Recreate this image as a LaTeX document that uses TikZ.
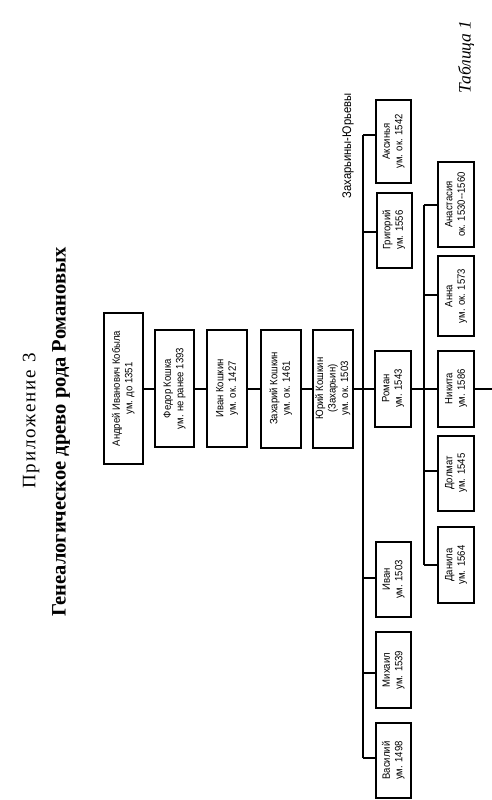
\documentclass[tikz,border=0pt]{standalone}
\usepackage{graphicx}
\usepackage{fontspec}
\setmainfont{Liberation Serif}
\newfontfamily\boxfont[FakeStretch=0.9]{Liberation Sans}
\newfontfamily\spacedfont[LetterSpace=10]{Liberation Serif}
\newcommand\famnode[6]{\node[famb, minimum width=#4pt, minimum height=#5pt] (#1) at (#2,#3) {\rotatebox{90}{\begin{tabular}{@{}c@{}}#6\end{tabular}}};}
\begin{document}
\begin{tikzpicture}[x=1pt,y=-1pt,
  famb/.style={draw, line width=2pt, inner sep=0pt, font=\boxfont\fontsize{10.6}{12.5}\selectfont},
  conn/.style={line width=2pt},
  lbl/.style={rotate=90, inner sep=0pt}]
\useasboundingbox (0,0) rectangle (492,800);
\fill[white] (0,0) rectangle (492,800);

% headings
\node[lbl, font=\spacedfont\fontsize{19}{22}\selectfont] (app) at (31,421) {Приложение 3};
\node[lbl, font=\bfseries\fontsize{20.5}{24}\selectfont] (title) at (61,432) {Генеалогическое древо рода Романовых};
\node[lbl, font=\itshape\fontsize{17.5}{20}\selectfont] (tab) at (466,57) {Таблица 1};
\node[lbl, font=\boxfont\fontsize{12.5}{14}\selectfont] (zy) at (348,146) {Захарьины-Юрьевы};

% main line
\famnode{andr}{123.5}{388.5}{39}{151}{Андрей Иванович Кобыла\\ум. до 1351}
\famnode{fed}{174.5}{388.5}{39}{117}{Федор Кошка\\ум. не ранее 1393}
\famnode{ivk}{227}{388.5}{40}{117}{Иван Кошкин\\ум. ок. 1427}
\famnode{zah}{281}{388.5}{40}{118}{Захарий Кошкин\\ум. ок. 1461}
\famnode{yur}{333}{388.5}{40}{118}{Юрий Кошкин\\(Захарьин)\\ум. ок. 1503}

% children of Yuri
\famnode{aks}{393.5}{141.5}{35}{83}{Аксинья\\ум. ок. 1542}
\famnode{grig}{394}{230}{35}{75}{Григорий\\ум. 1556}
\famnode{rom}{393}{388.5}{36}{76}{Роман\\ум. 1543}
\famnode{ivan}{393.5}{579.5}{35}{75}{Иван\\ум. 1503}
\famnode{mih}{393.5}{670}{35}{76}{Михаил\\ум. 1539}
\famnode{vas}{393.5}{760.5}{35}{75}{Василий\\ум. 1498}

% children of Roman
\famnode{anast}{456}{204.5}{36}{85}{Анастасия\\ок. 1530--1560}
\famnode{anna}{456}{296}{36}{80}{Анна\\ум. ок. 1573}
\famnode{nik}{456}{388.5}{36}{76}{Никита\\ум. 1586}
\famnode{dol}{456}{473}{36}{75}{Долмат\\ум. 1545}
\famnode{dan}{456}{565}{36}{76}{Данила\\ум. 1564}

% trunk coordinates
\coordinate (ttop) at (363,135);
\coordinate (tg) at (363,232);
\coordinate (ti) at (363,578);
\coordinate (tm) at (363,673);
\coordinate (tbot) at (363,758);
\coordinate (stop) at (424,204.5);
\coordinate (sa) at (424,295);
\coordinate (sd) at (424,471);
\coordinate (sbot) at (424,565);
\coordinate (edge) at (492,388.5);

% connectors
\draw[conn] (andr) -- (fed);
\draw[conn] (fed) -- (ivk);
\draw[conn] (ivk) -- (zah);
\draw[conn] (zah) -- (yur);
\draw[conn] (yur) -- (rom);
\draw[conn] (ttop) -- (tbot);
\draw[conn] (ttop) -- (ttop -| aks.west);
\draw[conn] (tg) -- (tg -| grig.west);
\draw[conn] (ti) -- (ti -| ivan.west);
\draw[conn] (tm) -- (tm -| mih.west);
\draw[conn] (tbot) -- (tbot -| vas.west);
\draw[conn] (rom) -- (nik);
\draw[conn] (stop) -- (sbot);
\draw[conn] (stop) -- (anast);
\draw[conn] (sa) -- (sa -| anna.west);
\draw[conn] (sd) -- (sd -| dol.west);
\draw[conn] (sbot) -- (dan);
\draw[conn] (nik) -- (edge);
\end{tikzpicture}
\end{document}
